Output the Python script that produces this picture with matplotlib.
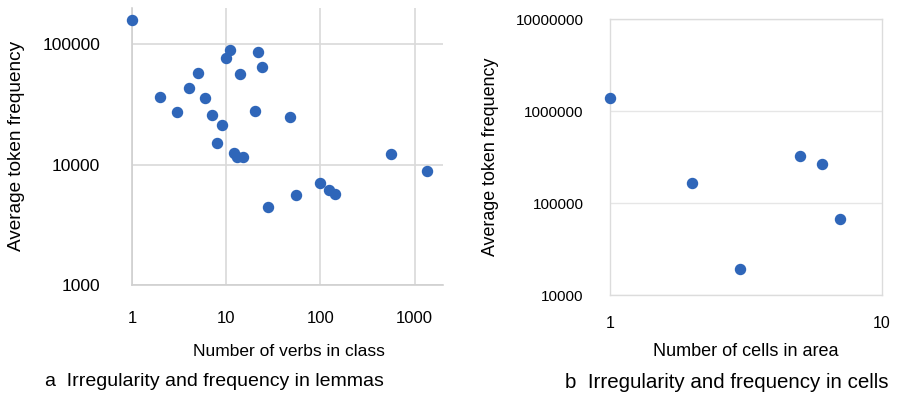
import matplotlib
matplotlib.use("Agg")
import matplotlib.pyplot as plt

# panel a: verb classes
verbs_in_class = [1, 2, 3, 4, 5, 6, 7, 8, 9, 10, 11, 12, 13, 14, 15, 20, 22, 24,
                  28, 48, 55, 100, 124, 142, 557, 1360]
token_freq_a = [158000, 36700, 27400, 43600, 58000, 35600, 25700, 15200, 21300,
                76200, 89200, 12500, 11500, 56500, 11500, 27800, 87000, 65000,
                4420, 25100, 5610, 7020, 6180, 5690, 12250, 8810]

# panel b: cells in area
cells_in_area = [1, 2, 3, 5, 6, 7]
token_freq_b = [1410000, 166000, 19300, 324000, 265000, 67000]

blue = "#2f66b9"
W, H = 899, 396
fig = plt.figure(figsize=(W / 100, H / 100), dpi=100)

def box(l, r, t, b):
    return [l / W, 1 - b / H, (r - l) / W, (b - t) / H]

sans = ["Liberation Sans", "DejaVu Sans"]

# ---- left
ax1 = fig.add_axes(box(132, 443, 8, 285))
ax1.scatter(verbs_in_class, token_freq_a, s=52, color=blue, zorder=3, clip_on=False)
ax1.set_xscale("log")
ax1.set_yscale("log")
ax1.set_xlim(1, 2000)
ax1.set_ylim(1000, 200000)
ax1.set_xticks([1, 10, 100, 1000])
ax1.set_xticklabels(["1", "10", "100", "1000"], family=sans, fontsize=12)
ax1.set_yticks([1000, 10000, 100000])
ax1.set_yticklabels(["1000", "10000", "100000"], family=sans, fontsize=12.5)
ax1.minorticks_off()
ax1.tick_params(axis="x", length=0, pad=19)
ax1.tick_params(axis="y", length=0, pad=23)
ax1.grid(True, color="#d9d9d9", linewidth=1.2)
ax1.set_axisbelow(True)
for sp in ["top", "right"]:
    ax1.spines[sp].set_visible(False)
for sp in ["left", "bottom"]:
    ax1.spines[sp].set_color("#d0d0d0")
    ax1.spines[sp].set_linewidth(1.2)

# ---- right
ax2 = fig.add_axes(box(610, 882, 19.3, 295.3))
ax2.scatter(cells_in_area, token_freq_b, s=52, color=blue, zorder=3, clip_on=False)
ax2.set_xscale("log")
ax2.set_yscale("log")
ax2.set_xlim(1, 10)
ax2.set_ylim(10000, 10000000)
ax2.set_xticks([1, 10])
ax2.set_xticklabels(["1", "10"], family=sans, fontsize=11.5)
ax2.set_yticks([10000, 100000, 1000000, 10000000])
ax2.set_yticklabels(["10000", "100000", "1000000", "10000000"], family=sans, fontsize=11)
ax2.minorticks_off()
ax2.tick_params(axis="x", length=0, pad=15)
ax2.tick_params(axis="y", length=0, pad=19)
ax2.grid(True, axis="y", color="#e6e6e6", linewidth=1)
ax2.set_axisbelow(True)
for sp in ax2.spines.values():
    sp.set_color("#dcdcdc")
    sp.set_linewidth(1)

# labels and captions
fig.text(17 / W, 1 - 146 / H, "Average token frequency", rotation=90,
         ha="center", va="center", family=sans, fontsize=13.7)
fig.text(490 / W, 1 - 157 / H, "Average token frequency", rotation=90,
         ha="center", va="center", family=sans, fontsize=12.9)
fig.text(289 / W, 1 - 351 / H, "Number of verbs in class",
         ha="center", va="center", family=sans, fontsize=12.5)
fig.text(746 / W, 1 - 352 / H, "Number of cells in area",
         ha="center", va="center", family=sans, fontsize=13)
fig.text(214 / W, 1 - 382 / H, "a  Irregularity and frequency in lemmas",
         ha="center", va="center", family=sans, fontsize=14)
fig.text(727 / W, 1 - 382 / H, "b  Irregularity and frequency in cells",
         ha="center", va="center", family=sans, fontsize=14.8)

fig.savefig("out.png", dpi=100)
